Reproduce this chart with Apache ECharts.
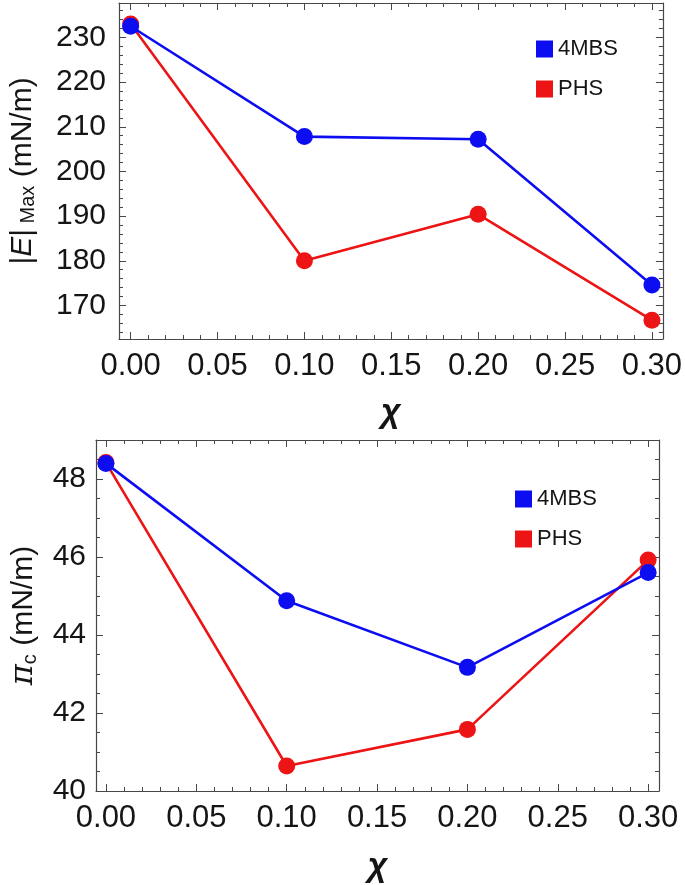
<!DOCTYPE html>
<html><head><meta charset="utf-8">
<script src="https://cdn.jsdelivr.net/npm/echarts@6/dist/echarts.min.js"></script>
<style>html,body{margin:0;padding:0;background:#fff}#c{width:685px;height:885px}</style>
</head><body><div id="c"></div>
<script>
// ---- data ----
const xValues = [0.0, 0.1, 0.2, 0.3];
const seriesNames = ['4MBS', 'PHS'];
const eMax4MBS = [232.5, 207.8, 207.2, 174.6];
const eMaxPHS = [233.0, 180.0, 190.4, 166.7];
const piC4MBS = [48.40, 44.88, 43.17, 45.60];
const piCPHS = [48.42, 40.64, 41.58, 45.92];
const xTickLabels = ['0.00', '0.05', '0.10', '0.15', '0.20', '0.25', '0.30'];
const yTopTickLabels = ['170', '180', '190', '200', '210', '220', '230'];
const yBottomTickLabels = ['40', '42', '44', '46', '48'];

const FONT = '"Liberation Sans", Arial, sans-serif';
const BLUE = '#0d0df2';
const RED = '#ec1414';
const AXC = '#474747';
const TXT = '#151515';

function steps(min, max, step) {
  const out = [];
  const k0 = Math.ceil(min / step - 1e-9), k1 = Math.floor(max / step + 1e-9);
  for (let k = k0; k <= k1; k++) out.push(+(k * step).toFixed(6));
  return out;
}
function labelFmt(list) {
  return function (v) {
    for (const s of list) { if (Math.abs(parseFloat(s) - v) < 1e-6) return s; }
    return '';
  };
}
function ax(grid, pos, min, max, ticks, len, showLine, labelList, margin, fs) {
  const a = {
    type: 'value', gridIndex: grid, position: pos, min: min, max: max,
    axisLine: { show: showLine, onZero: false, lineStyle: { color: AXC, width: 1.2 } },
    axisTick: { show: true, inside: true, length: len, customValues: ticks, lineStyle: { color: AXC, width: 1 } },
    splitLine: { show: false },
    axisLabel: { show: false }
  };
  if (labelList) {
    a.axisLabel = {
      show: true, margin: margin, fontSize: fs || 30, color: TXT, fontFamily: FONT,
      customValues: labelList.map(Number), formatter: labelFmt(labelList), hideOverlap: false
    };
  }
  return a;
}
function pts(arr) { return xValues.map((x, i) => [x, arr[i]]); }
function ser(name, data, xi, yi, color, z) {
  return {
    name: name, type: 'line', xAxisIndex: xi, yAxisIndex: yi, data: pts(data),
    symbol: 'circle', symbolSize: 17, z: z,
    lineStyle: { color: color, width: 2.6 }, itemStyle: { color: color }
  };
}

const topX = [-0.0067, 0.3063], topY = [162.5, 237.7];
const botX = [-0.0055, 0.306], botY = [40, 49];

const xMaj = xTickLabels.map(Number);
const xMinTop = steps(topX[0], topX[1], 0.01), xMinBot = steps(botX[0], botX[1], 0.01);
const yTopMaj = yTopTickLabels.map(Number), yTopMin = steps(topY[0], topY[1], 2);
const yBotMaj = yBottomTickLabels.map(Number), yBotMin = steps(botY[0], botY[1], 0.5);

const chiStyle = { fontSize: 34, fontStyle: 'italic', fontWeight: 'bold', color: TXT, fontFamily: FONT };

const xAxes = [
  Object.assign(ax(0, 'bottom', topX[0], topX[1], xMaj, 7, true, xTickLabels, 12, 31), {
    name: 'χ', nameLocation: 'middle', nameGap: 57, nameTextStyle: chiStyle
  }),
  ax(0, 'bottom', topX[0], topX[1], xMinTop, 4, false),
  ax(0, 'top', topX[0], topX[1], xMaj, 7, true),
  ax(0, 'top', topX[0], topX[1], xMinTop, 4, false),
  Object.assign(ax(1, 'bottom', botX[0], botX[1], xMaj, 7, true, xTickLabels, 12, 31), {
    name: 'χ', nameLocation: 'middle', nameGap: 59, nameTextStyle: chiStyle
  }),
  ax(1, 'bottom', botX[0], botX[1], xMinBot, 4, false),
  ax(1, 'top', botX[0], botX[1], xMaj, 7, true),
  ax(1, 'top', botX[0], botX[1], xMinBot, 4, false)
];

const richTop = {
  a: { fontSize: 30, fontFamily: FONT, color: TXT },
  e: { fontSize: 30, fontFamily: FONT, fontStyle: 'italic', color: TXT },
  s: { fontSize: 20, fontFamily: FONT, color: TXT, padding: [10, 0, 0, 0] }
};
const richBot = {
  a: { fontSize: 30, fontFamily: FONT, color: TXT },
  p: { fontSize: 32, fontFamily: '"DejaVu Serif", serif', fontStyle: 'italic', color: TXT },
  s: { fontSize: 20, fontFamily: FONT, color: TXT, padding: [12, 0, 0, 0] }
};

const yAxes = [
  Object.assign(ax(0, 'left', topY[0], topY[1], yTopMaj, 7, true, yTopTickLabels, 13, 30), {
    name: '{a||}{e|E}{a||}{s| Max}{a| (mN/m)}', nameLocation: 'middle', nameGap: 81,
    nameTextStyle: { fontSize: 30, color: TXT, fontFamily: FONT, rich: richTop }
  }),
  ax(0, 'left', topY[0], topY[1], yTopMin, 4, false),
  ax(0, 'right', topY[0], topY[1], yTopMaj, 7, true),
  ax(0, 'right', topY[0], topY[1], yTopMin, 4, false),
  Object.assign(ax(1, 'left', botY[0], botY[1], yBotMaj, 7, true, yBottomTickLabels, 10, 30), {
    name: '{p|π}{s|c}{a| (mN/m)}', nameLocation: 'middle', nameGap: 56,
    nameTextStyle: { fontSize: 30, color: TXT, fontFamily: FONT, rich: richBot }
  }),
  ax(1, 'left', botY[0], botY[1], yBotMin, 4, false),
  ax(1, 'right', botY[0], botY[1], yBotMaj, 7, true),
  ax(1, 'right', botY[0], botY[1], yBotMin, 4, false)
];

const legendBase = {
  orient: 'vertical', icon: 'rect', itemWidth: 17, itemHeight: 17, itemGap: 18,
  data: seriesNames, selectedMode: false,
  textStyle: { fontSize: 22, color: TXT, fontFamily: FONT }
};

const option = {
  animation: false,
  backgroundColor: '#fff',
  grid: [
    { left: 114, top: 3, width: 549, height: 336 },
    { left: 92, top: 440, width: 567, height: 351 }
  ],
  legend: [
    Object.assign({}, legendBase, { left: 531, top: 33 }),
    Object.assign({}, legendBase, { left: 510, top: 483 })
  ],
  xAxis: xAxes,
  yAxis: yAxes,
  series: [
    ser('PHS', eMaxPHS, 0, 0, RED, 2),
    ser('4MBS', eMax4MBS, 0, 0, BLUE, 3),
    ser('PHS', piCPHS, 4, 4, RED, 2),
    ser('4MBS', piC4MBS, 4, 4, BLUE, 3)
  ]
};
const chart = echarts.init(document.getElementById('c'), null, { renderer: 'canvas' });
chart.setOption(option);
</script>
</body></html>
